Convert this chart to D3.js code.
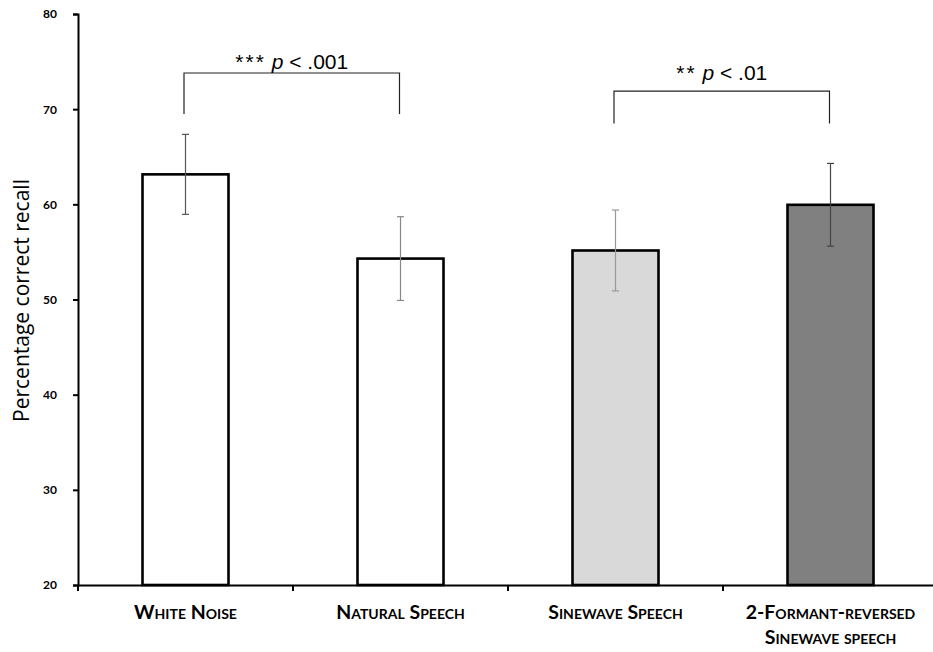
<!DOCTYPE html>
<html>
<head>
<meta charset="utf-8">
<script src="https://cdn.jsdelivr.net/npm/d3@7"></script>
<style>
  body { margin: 0; background: #fff; }
  #main { width: 933px; height: 652px; }
  svg { display: block; }
</style>
</head>
<body>
<div id="main"></div>
<script>
const conditions = ["White Noise", "Natural Speech", "Sinewave Speech", "2-Formant-reversed"];
const labelLines = [["White Noise"], ["Natural Speech"], ["Sinewave Speech"], ["2-Formant-reversed", "Sinewave speech"]];
const means = [63.15, 54.3, 55.15, 59.95];
const errors = [4.2, 4.4, 4.25, 4.35];
const fills = ["#ffffff", "#ffffff", "#d9d9d9", "#808080"];
const errColors = ["#555", "#888", "#999", "#444"];
const yTicks = [20, 30, 40, 50, 60, 70, 80];
const comparisons = [
  {a: 0, b: 1, stars: "***", rest: " < .001", top: 73.8, bottom: 69.5, label: 74.2},
  {a: 2, b: 3, stars: "**", rest: " < .01", top: 71.9, bottom: 68.5, label: 73.05}
];

const elm = d3.select("#main");
const svg = elm.append("svg").attr("width", 933).attr("height", 652);

const plotLeft = 78, plotRight = 938, plotTop = 14, plotBottom = 585;

const x = d3.scaleBand()
  .domain(conditions)
  .range([plotLeft, plotRight])
  .paddingInner(0.6)
  .paddingOuter(0.3);

const y = d3.scaleLinear()
  .domain([20, 80])
  .range([plotBottom, plotTop]);

// bars
svg.append("g")
  .selectAll("rect")
  .data(conditions)
  .enter()
  .append("rect")
  .attr("x", d => x(d))
  .attr("y", (d, i) => y(means[i]))
  .attr("width", x.bandwidth())
  .attr("height", (d, i) => y(20) - y(means[i]))
  .attr("fill", (d, i) => fills[i])
  .attr("stroke", "#000")
  .attr("stroke-width", 2.6);

// error bars
const eb = svg.append("g")
  .selectAll("g")
  .data(conditions)
  .enter()
  .append("g")
  .attr("stroke", (d, i) => errColors[i])
  .attr("stroke-width", 1.2);

eb.append("line")
  .attr("x1", d => x(d) + x.bandwidth() / 2)
  .attr("x2", d => x(d) + x.bandwidth() / 2)
  .attr("y1", (d, i) => y(means[i] + errors[i]))
  .attr("y2", (d, i) => y(means[i] - errors[i]));

[1, -1].forEach(s => {
  eb.append("line")
    .attr("x1", d => x(d) + x.bandwidth() / 2 - 3.5)
    .attr("x2", d => x(d) + x.bandwidth() / 2 + 3.5)
    .attr("y1", (d, i) => y(means[i] + s * errors[i]))
    .attr("y2", (d, i) => y(means[i] + s * errors[i]));
});

// y axis
const yAxis = svg.append("g")
  .attr("transform", `translate(${plotLeft},0)`)
  .call(d3.axisLeft(y).tickValues(yTicks).tickSize(5).tickPadding(16));
yAxis.select(".domain").attr("stroke", "#000").attr("stroke-width", 2);
yAxis.selectAll(".tick line").attr("stroke", "#000").attr("stroke-width", 2);
yAxis.selectAll(".tick text")
  .attr("font-family", "Lato, 'Open Sans', sans-serif")
  .attr("font-weight", "bold")
  .attr("font-size", 12)
  .attr("fill", "#000");

// x axis
const xAxis = svg.append("g")
  .attr("transform", `translate(0,${plotBottom})`)
  .call(d3.axisBottom(x).tickSize(0).tickFormat(""));
xAxis.select(".domain").attr("stroke", "#000").attr("stroke-width", 2);

const step = x.step();
const bounds = conditions.map(d => x(d) - x.paddingOuter() * step);
xAxis.append("g")
  .selectAll("line")
  .data(bounds)
  .enter()
  .append("line")
  .attr("x1", d => d)
  .attr("x2", d => d)
  .attr("y1", 0)
  .attr("y2", 6)
  .attr("stroke", "#000")
  .attr("stroke-width", 2);

const catText = svg.append("g")
  .selectAll("text")
  .data(conditions)
  .enter()
  .append("text")
  .attr("text-anchor", "middle")
  .attr("font-family", "Lato, 'Open Sans', sans-serif")
  .attr("font-weight", "bold")
  .attr("font-size", 19.5)
  .style("font-variant", "small-caps")
  .attr("fill", "#000");

catText.each(function(d, i) {
  const t = d3.select(this);
  labelLines[i].forEach((line, j) => {
    t.append("tspan")
      .attr("x", x(d) + x.bandwidth() / 2)
      .attr("y", 619 + j * 25)
      .text(line);
  });
});

// y label
svg.append("text")
  .attr("transform", `translate(29,${(plotTop + plotBottom) / 2 + 1}) rotate(-90)`)
  .attr("text-anchor", "middle")
  .attr("font-family", "'Open Sans', sans-serif")
  .attr("font-size", 21)
  .attr("fill", "#000")
  .text("Percentage correct recall");

// significance brackets
comparisons.forEach(c => {
  const xa = x(conditions[c.a]) + x.bandwidth() / 2 - 1.5;
  const xb = x(conditions[c.b]) + x.bandwidth() / 2 - 1;
  svg.append("path")
    .attr("d", `M${xa},${y(c.bottom)}V${y(c.top)}H${xb}V${y(c.bottom)}`)
    .attr("fill", "none")
    .attr("stroke", "#222")
    .attr("stroke-width", 1.2);

  const t = svg.append("text")
    .attr("x", (xa + xb) / 2)
    .attr("y", y(c.label))
    .attr("text-anchor", "middle")
    .attr("font-family", "'Liberation Sans', Arial, sans-serif")
    .attr("font-size", 21)
    .attr("fill", "#000");
  t.append("tspan").attr("letter-spacing", 2).text(c.stars);
  t.append("tspan").text(" ");
  t.append("tspan").attr("font-style", "italic").text("p");
  t.append("tspan").text(c.rest);
});
</script>
</body>
</html>
